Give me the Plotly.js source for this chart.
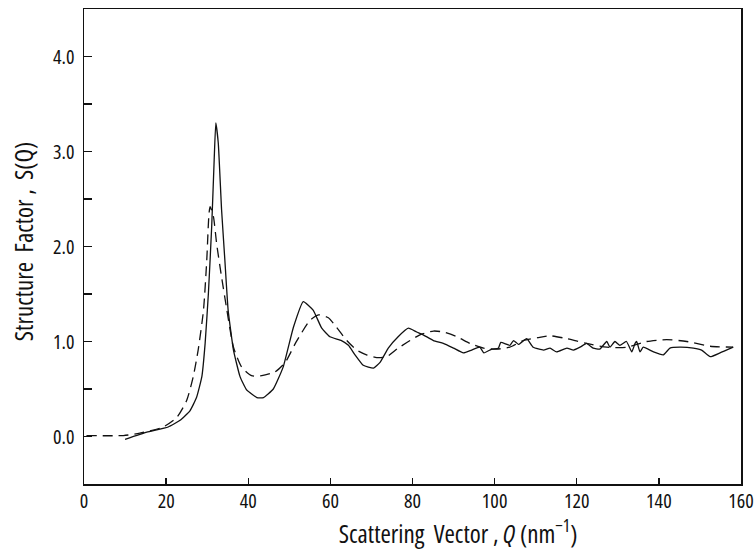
<!DOCTYPE html>
<html>
<head>
<meta charset="utf-8">
<script src="https://cdn.plot.ly/plotly-3.0.1.min.js"></script>
<style>
html,body{margin:0;padding:0;background:#fff;}
#chart{width:756px;height:551px;}
#chart text{font-stretch:75% !important;}
</style>
</head>
<body>
<div id="chart"></div>
<script>
// Experimental S(Q) (solid line)
const expQ = [10.0, 15.3, 20.5, 23.4, 25.8, 27.4, 28.7, 29.5, 30.3, 31.1, 31.7, 32.1, 32.7, 33.5, 34.3, 35.1, 36.4, 38.0, 39.6, 42.1, 43.7, 46.1, 48.5, 51.0, 53.4, 55.8, 57.9, 59.9, 62.7, 64.4, 66.0, 68.0, 70.5, 72.1, 74.1, 76.5, 79.0, 81.0, 82.6, 85.1, 87.5, 90.0, 92.4, 94.4, 96.4, 97.4, 99.3, 100.9, 101.5, 103.7, 104.6, 105.8, 107.8, 109.4, 111.9, 113.5, 115.1, 117.6, 119.2, 120.8, 122.4, 124.0, 125.6, 127.3, 128.1, 129.3, 130.5, 132.1, 133.4, 134.2, 134.6, 135.4, 136.2, 138.7, 141.1, 142.7, 145.1, 148.4, 150.4, 152.5, 154.9, 158.1];
const expS = [-0.03, 0.045, 0.10, 0.17, 0.27, 0.41, 0.63, 0.98, 1.51, 2.21, 2.91, 3.30, 3.09, 2.39, 1.86, 1.33, 0.91, 0.63, 0.49, 0.41, 0.41, 0.50, 0.73, 1.15, 1.42, 1.33, 1.14, 1.05, 1.01, 0.96, 0.86, 0.75, 0.72, 0.78, 0.93, 1.05, 1.14, 1.10, 1.07, 1.01, 0.98, 0.93, 0.88, 0.91, 0.94, 0.88, 0.92, 0.93, 0.99, 0.96, 1.01, 0.97, 1.03, 0.94, 0.91, 0.93, 0.89, 0.93, 0.91, 0.94, 0.98, 0.93, 0.92, 1.00, 0.94, 1.00, 0.96, 1.00, 0.89, 0.98, 1.00, 0.89, 0.94, 0.89, 0.86, 0.93, 0.94, 0.93, 0.91, 0.84, 0.88, 0.94];

// Model S(Q) (dashed line)
const modQ = [0.6, 9.6, 13.6, 19.3, 22.6, 25.0, 26.6, 27.8, 29.1, 29.9, 30.4, 30.7, 31.5, 32.3, 33.5, 34.8, 36.4, 38.4, 40.8, 43.3, 46.5, 49.0, 51.6, 55.0, 57.1, 59.5, 61.5, 64.0, 66.4, 68.8, 71.3, 73.7, 76.5, 79.4, 81.8, 85.1, 87.5, 90.8, 94.0, 97.3, 100.5, 103.7, 107.0, 110.5, 113.5, 117.6, 122.4, 127.3, 132.1, 137.0, 141.9, 146.8, 152.5, 158.1];
const modS = [0.01, 0.01, 0.035, 0.10, 0.20, 0.38, 0.63, 0.91, 1.33, 1.86, 2.32, 2.42, 2.32, 2.03, 1.68, 1.33, 0.94, 0.73, 0.64, 0.64, 0.68, 0.78, 0.99, 1.22, 1.28, 1.25, 1.15, 1.01, 0.91, 0.86, 0.83, 0.84, 0.93, 1.01, 1.07, 1.11, 1.10, 1.05, 0.98, 0.93, 0.92, 0.94, 1.01, 1.04, 1.06, 1.03, 0.98, 0.94, 0.94, 1.00, 1.02, 1.00, 0.95, 0.94];

const xTickVals = [0, 20, 40, 60, 80, 100, 120, 140, 160];
const xTickText = ['0', '20', '40', '60', '80', '100', '120', '140', '160'];
const yTickVals = [0, 1, 2, 3, 4];
const yTickText = ['0.0', '1.0', '2.0', '3.0', '4.0'];
const xTitle = 'Scattering\u00a0 Vector\u00a0, <i>Q</i> (nm<sup>−1</sup>)';
const yTitle = 'Structure\u00a0 Factor\u00a0, \u00a0S(Q)';

const FONT = 'Open Sans, Roboto, Liberation Sans, sans-serif';
const FS = 20;
const TFS = 25;

const traces = [
  {x: expQ, y: expS, mode: 'lines', line: {color: '#111', width: 1.3, shape: 'spline', smoothing: 0.4}, hoverinfo: 'skip'},
  {x: modQ, y: modS, mode: 'lines', line: {color: '#111', width: 1.3, dash: '10px,6px', shape: 'spline', smoothing: 0.6}, hoverinfo: 'skip'}
];

const layout = {
  width: 756, height: 551,
  margin: {l: 84, r: 15, t: 9, b: 67},
  paper_bgcolor: '#fff', plot_bgcolor: '#fff',
  showlegend: false,
  font: {family: FONT, size: FS, color: '#111'},
  xaxis: {
    range: [0, 160], tickvals: xTickVals, ticktext: xTickText,
    ticks: 'inside', ticklen: 6, tickwidth: 1.3, tickcolor: '#111',
    ticklabeloverflow: 'allow', ticklabelstandoff: -2,
    showline: true, linecolor: '#111', linewidth: 1.5, mirror: true,
    showgrid: false, zeroline: false,
    tickfont: {family: FONT, size: FS, color: '#111'}
  },
  yaxis: {
    range: [-0.5, 4.5], tickvals: yTickVals, ticktext: yTickText,
    ticks: 'inside', ticklen: 8, tickwidth: 1.3, tickcolor: '#111',
    minor: {dtick: 0.5, ticks: 'inside', ticklen: 8, tickwidth: 1.3, tickcolor: '#111'},
    ticklabelstandoff: 4,
    showline: true, linecolor: '#111', linewidth: 1.5, mirror: true,
    showgrid: false, zeroline: false,
    tickfont: {family: FONT, size: FS, color: '#111'}
  },
  annotations: [
    {text: xTitle, xref: 'paper', yref: 'paper', x: 0.569, y: -0.1, xanchor: 'center', yanchor: 'middle', showarrow: false, font: {family: FONT, size: TFS, color: '#111'}},
    {text: yTitle, xref: 'paper', yref: 'paper', x: -0.093, y: 0.51, xanchor: 'center', yanchor: 'middle', textangle: -90, showarrow: false, font: {family: FONT, size: TFS, color: '#111'}}
  ]
};

Plotly.newPlot('chart', traces, layout, {staticPlot: true, displayModeBar: false});
</script>
</body>
</html>
